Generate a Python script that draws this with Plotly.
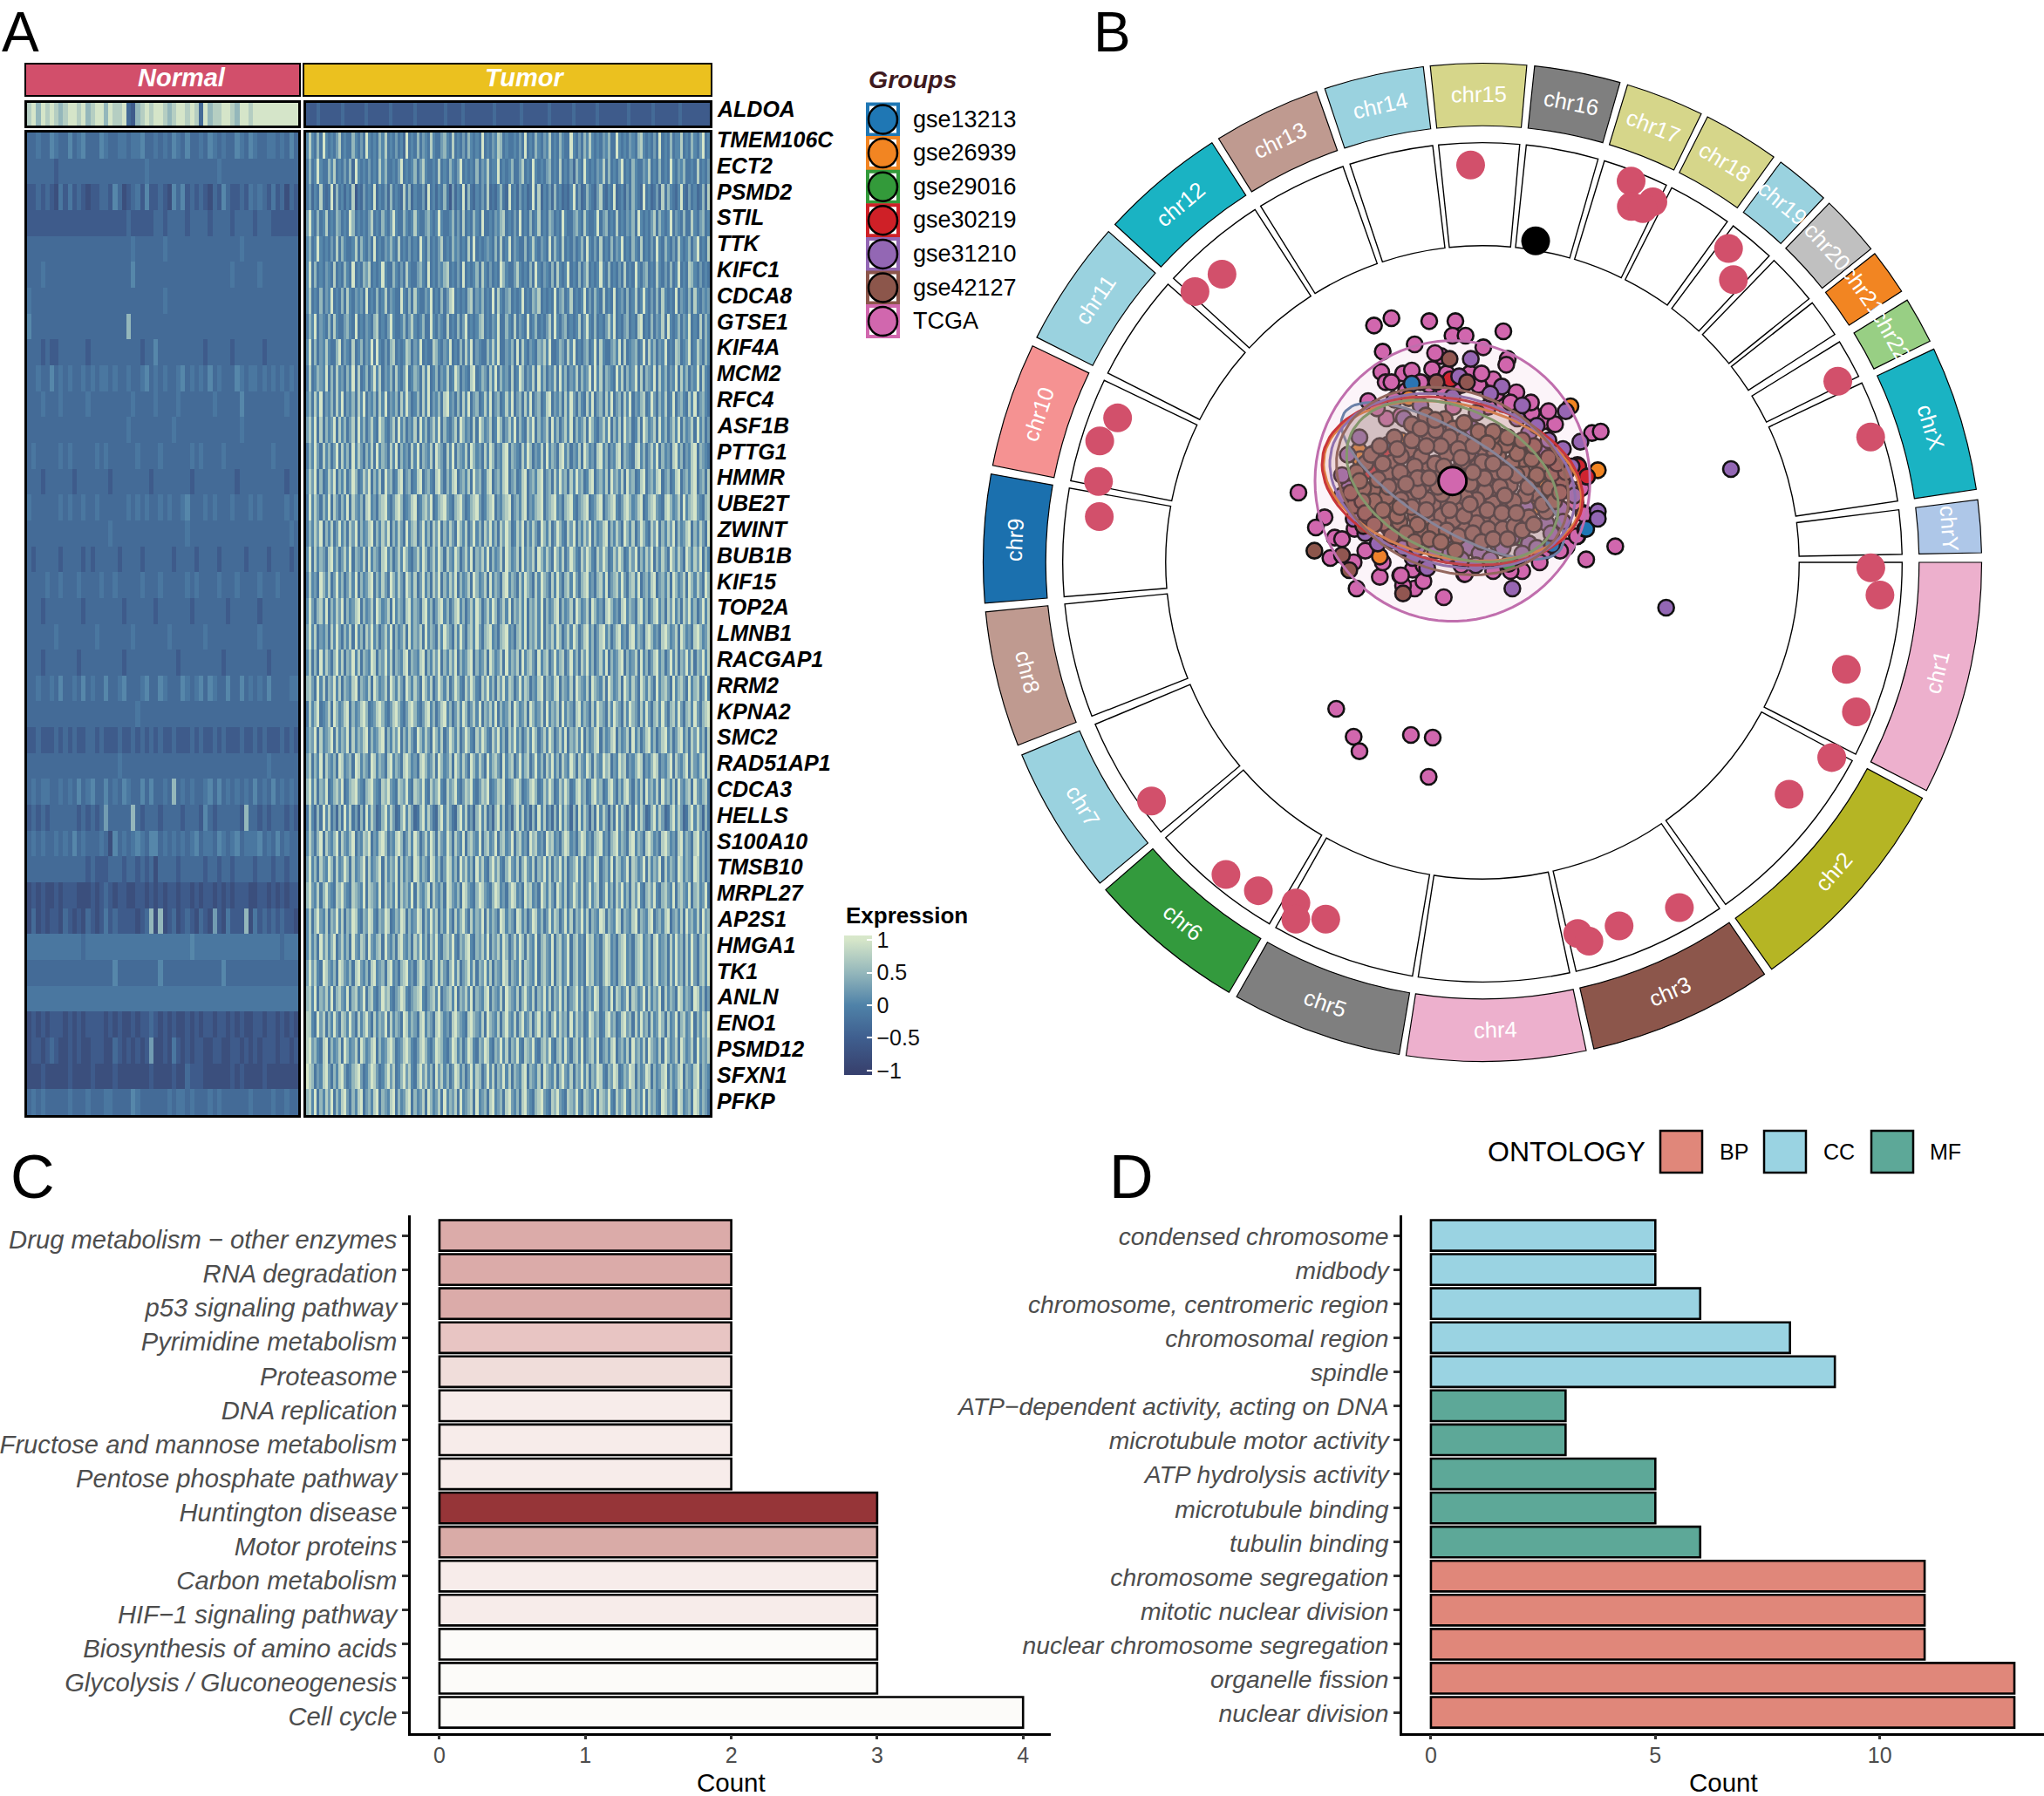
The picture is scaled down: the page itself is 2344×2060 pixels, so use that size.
import math
import plotly.graph_objects as go

W, H = 2344, 2060
FONT = "Liberation Sans"

# ---------- panel A, values (one digit = one level, see levels)
genes = ["TMEM106C", "ECT2", "PSMD2", "STIL", "TTK", "KIFC1", "CDCA8", "GTSE1", "KIF4A", "MCM2",
         "RFC4", "ASF1B", "PTTG1", "HMMR", "UBE2T", "ZWINT", "BUB1B", "KIF15", "TOP2A", "LMNB1",
         "RACGAP1", "RRM2", "KPNA2", "SMC2", "RAD51AP1", "CDCA3", "HELLS", "S100A10", "TMSB10",
         "MRPL27", "AP2S1", "HMGA1", "TK1", "ANLN", "ENO1", "PSMD12", "SFXN1", "PFKP"]
levels = [-1, -0.78, -0.56, -0.33, -0.15, 0.05, 0.25, 0.5, 0.75, 1]

aldoa_normal = ["897989878998978997988932789899878998983978899879989999999999"]
aldoa_tumor = ["222322222232222223222222322222232222222232222322222222322222223222222232222223222222322222222322222232222222322222222"]

normal_rows = [
    "334335433534533354334434453343435435334354343354354334434353",
    "333333233333333333333333334333333333333333433333333333333333",
    "223232142423212233253123425223215352323213253223243432423132",
    "222222222222222222222232222233233332333323333233332333222222",
    "333333333333333333333334333333433333333333333334333333333333",
    "333433333333333333333335333333333333333333333433333433333333",
    "433333333333333333333333333333433333333333333333333333333333",
    "533333333333333333333373333333333333333333333333333333333333",
    "333232233333323333333333323353333333333233333233333323333333",
    "334335343433434344343343345343433453434353433354344343434343",
    "333433343333343333333334333343333433333334333335333333333433",
    "333333333333333333333343333333334333333333333334333333333333",
    "343333343433333434333333433334333333434333343333333333433333",
    "333233333323333333233333333233333333233333333323333333333233",
    "433333343433433433333343434334343345333434333433343433333434",
    "333333333333333333433333333333333334333333333333333333333343",
    "323333323333232333332333323333332333323333233333233332333323",
    "333343343334333343343333343334333334343333433343333433343333",
    "333233333333233333333233333323333333233333332333333233333333",
    "333333433333333433333334333333343333333433333333333433333333",
    "333233333332333333333233333333333233333333323333333332333333",
    "334334353343534335334533345335433354345354335335343435333344",
    "333333333333333333333333433333333333333333333333333333333333",
    "223222323232233232223223232323223222323223232223223232223232",
    "333333333333333333334333333333333333333333333333333334333333",
    "343443343435345335343543353533437343433453534343435343534343",
    "232323333332323236333337323332333323332532333332733232333232",
    "343433434353433343153434543553434343453443543453444534353433",
    "333333333333323222333233232313333233333233233233332333233233",
    "121211212221112123212211221212122122121221212122211221212122",
    "131212213212132124232222123717123123213216214222714232323221",
    "444444444444344444444444444444444444544444444444444444443444",
    "333333333333333333353333333335333333333333353333333333333333",
    "444444444444444444444444444444444444444444444444444444444444",
    "121212221212122221212112122321212112121221221212112212212121",
    "122123211212112221132121212611214212122112211221212122212212",
    "111211111211112111121111111211112113222111111212111121111111",
    "343433333433343334433335433333343443433343433333343333433433",
]

tumor_rows = [
    "585474954546845447546495454758454645394547465485446754845464754549454658745445464945475465845475449546475854546574495454654785454649454745584547546945",
    "474595447584546473954546454857445469454574685445484547546945454746584559454574468454954546745484546375495454658474546945475446584547454954657445484546",
    "463548434937453548243645493546374543847354463945354742635493743546483435743945364534948354637453435946347543684354934536475439453463847543594364534738",
    "695474584547645497454546845475469544754585446754595445746484547549445465784546494547458454764549544675485445946745484546574954546847545946547448546745",
    "574595454648475445847546494546575484546454954745468454756454849454565474845946544745854654947548454645749546484547465945475484546495475464854574694548",
    "594745465484547549454768454595447546485446754945465784546494545748546454975446854547495465474854594547468454595474546484549546745485464745945487546454",
    "584547465945474854656494547458465449547485446594547468945454784657454948546745459454768454549467458454594647548454945647458459546474854549465474854656",
    "475946547485446754945465478454695445746854574495465484547469454578454659447548465494574546849546745458469547454685945467454894547465849545746594548475",
    "594746585447946548457465949546478454587465945448754659454748594654475859446574948546547685944576485945467459485446759484567459485746594548745694586475",
    "484576594748564759484574695846574854694576485945746584597465489457648594756484597465849574658495746584756949584765495847569484765948574659485746594854",
    "574859465748594657485946574859465748596457485946574895647485946745859467458594674859467458946574859647548594674859467485946578459647584594675485946754",
    "685948475694857468495746854975468495746584957468594754684975648497568459746859475486947568495746859475684975468594758496745849756849574685947568495746",
    "475964857469485749586475849576485947564859476584976485947658497564859746589476548597465849576489574658497564895746589476548957468594756489574658947654",
    "586947458694758469745869475849674589467458946754896475894675849674589467589467458946758946748596748596745894675849675849674589467589467458946758946748",
    "495864759486475948657489564789546897456894578694578965478964578964578946578946758946578946789564789546789456894678954689756894578965489756849578965478",
    "475869475846957486947568947586947586495784695748694758649758469574869574869745869475864975846975486947586947568947586497584697548694758694756894758649",
    "594857648957468594765849576489574685975468597468597486597468594768594756849756849576849758649758469754869754869745869745869475869475864975864975869475",
    "485649758469574685947568947586497586497584695748694758694756849756849576489576485976485976485964785964789564785946785964785946758946758497568497586497",
    "596478594758694756894756849756849576489576489574689574689574685974685974685947685947685947568947568497568497564897564895764895746895748695748695746958",
    "695846574859647584957486957468594756849576849576485976485964785964789564789564785947685947685974685974689574689574689564895764897564897568497564897568",
    "584749586479584769584765984769584765894765894758694758694756894756849756849576849578649578469578469574869574685947568947568495746895746958476958476958",
    "786495847695847658947658497568497586497586497584697584697548697548695748695874695874658947658947658497658497658497568497586497586495786495786495784695",
    "485794568497568947568974568975468975468975468957468957468597468594768594756849756849756849576849576489576485976485976485976485964785964785964785964789",
    "576948567948576948576894756894758694758649758649758469758469754869754869574869574685974685974685947685947568947568947568495746895746895746895748695748",
    "684759486574985674985764985764895764897564897568497568497586497586495786495784695784695748695748659748659748659784659784657984657984657948657948657948",
    "795847694578694578965478965487965487695487695486795486795468795468794568794568974568974586974586974589674589674589647589647584967584967584965784965784",
    "485374958463749584637495863479586347958634795864379586437958463795846379584637958463749584637495863749586374958637495863749586347958634795863479586374",
    "586479486579486579465879465897465897468597468597486597486594786594785694785694785649785649785647985647985647895647895764895764897564897564895764895746",
    "695748659748569748567948567948576948576498576498574698574968574968547968547965847965847695847695846795846759846759487569487569485769485764985764985746",
    "796584796548796548765948765948675948675948657948657498657498654798654798564798564978564975864975846975846957846957486957486954786954786594786594785694",
    "584796584769584769854769854769845769847569847596847596485796485769485764985764985746985746958746958476958476598476598476589476589467589467584967584967",
    "585749685794685749658749657849657489657486957486954786954768954768594768597468597486594786594785694785649785647985647895647895674895674859674859647859",
    "696854986574986574896574895674895647895647985647958647958467958476958476598476594876594786594785694785649785647985647895647895674895674859674859647859",
    "785947685947865947856947854697854679854678954678594678594768594765894765849765847965847695847695846795846759846759487569487569485769485764985764985746",
    "885496847596487596485796485769485764985764895764897564897654897658497658479658479568479586479586749586745986745896745896748596748569748569478569475869",
    "896754894756849756849756894756897456897546897546987546985746985476985476958476954876954786954785964785946785946758946758496758497658497568497568495768",
    "987465896475896457896457986457968457968547968574968574698574695874695847695847658947658497658479658476958476985476984576984756984756894756894765894765",
    "785947586947589647589467589476589475689475684975684957684956784956748956748965748965478965487965487695487659487695486795486759486754986754985674985764",
]

# ---------- panel B
chroms = ["chr1", "chr2", "chr3", "chr4", "chr5", "chr6", "chr7", "chr8", "chr9", "chr10", "chr11", "chr12",
          "chr13", "chr14", "chr15", "chr16", "chr17", "chr18", "chr19", "chr20", "chr21", "chr22", "chrX", "chrY"]
chr_start = [90, 118.2, 145.6, 168, 189.6, 210.5, 230, 248.5, 265.3, 281.2, 296.8, 312.6,
             328.1, 341.6, 354, 6, 16.9, 26.8, 36.7, 44, 51.8, 58.3, 64.7, 82.8]
chr_end = [117.2, 144.6, 167.1, 188.8, 209.5, 229, 247.3, 264.3, 280.2, 295.7, 311.5, 327.2,
           340.6, 353.2, 365.1, 16, 26, 35.7, 43.1, 51.1, 57.1, 63.7, 81.6, 88.9]
chr_colors = ["#EDB0CD", "#B5B524", "#8C564B", "#EDB0CD", "#7F7F7F", "#339A3D", "#9AD2DF", "#BF9A90",
              "#1B70AE", "#F59292", "#9AD2DF", "#1AB3C3", "#BF9A90", "#9AD2DF", "#D6D68A", "#7F7F7F",
              "#D6D68A", "#D6D68A", "#9AD2DF", "#C0C0C0", "#F28522", "#98CF84", "#1AB3C3", "#AEC7E8"]
dot_theta = [358.3, 21.3, 22.7, 25.3, 24.4, 38.1, 41.6, 63.0, 72.1, 90.8, 94.7, 106.4, 111.8, 119.2, 127.1, 150.3,
             159.4, 165.6, 164.3, 203.7, 208.7, 207.6, 214.3, 219.4, 234.2, 276.8, 281.9, 287.6, 291.6, 313.3, 317.9]
dot_r = [305, 314, 296, 306, 298, 306, 290, 306, 313, 298, 306, 291, 309, 307, 295, 305,
         298, 294, 302, 299, 298, 309, 305, 310, 313, 296, 301, 308, 301, 303, 298]
black_theta = [9.4]
black_r = [250]

groups = ["gse13213", "gse26939", "gse29016", "gse30219", "gse31210", "gse42127", "TCGA"]
group_colors = ["#1F77B4", "#F28522", "#339A3A", "#CF2027", "#9367B4", "#8C564B", "#D167AE"]

tcga_x = [-27, -21, -8, 1, 0, 4.5, 17.5, 10.6, -13, -24, -4, -6, 19, 18.5, -24.5, -17, -14, -23, -21, -7, 6, 14, -29, 22, 34,
          48, 51, -53, -44, -47, -40.5, -42, -34, -25, -33, -18, -13, -10, -17, -3, 4, 24, 20, 39, 43, 46, 56, 45,
          -40, -34, -32, -14.3, -6.8, -8.2, 31.3, 27.3, 35.3, 23.3, 17.3, -31.7, -34.7, -27.2, -22.7, -17.7, 12.3, 0.3,
          -33.7, 42.3, 44.3, -13.7, 4.3, -17.7, 31.3, 39.3, 42.8, 45.3,
          -8, -3, 3, 9, 15, 20, -11, -16, -26, -20, -2, 10, 27, 33, -38, -30, -24, -10, 3, 14, 30, 37]
tcga_y = [53.5, 56, 55, 55, 50, 50, 51.5, 46, 47, 44.5, 43, 44, 42, 40, 37.5, 37, 38, 34, 34, 38.5, 37, 35, 27.5, 30.5, 20,
          16.5, 17, -4, -12.5, -16, -19.5, -26.5, -28, -33, -37, -32.5, -37, -34.5, -36, -40, -32, -31, -31, -23, -19, -27, -22.5, -11,
          -78.4, -88, -93, -87.4, -88.3, -101.8, 20.5, 23.5, 19.5, 25.5, 26.5, -11.5, -7.5, 9.5, 21.5, 22.5, 25.5, 25.5,
          -16.5, -7.5, -2.5, -30.5, -32, -32.5, -24.5, -22.5, -19, -11.5,
          33, 31, 33, 33, 30, 27, 34, 31, 25, 28, 37, 37, 27, 24, -20, -24, -28, -29, -29, -31, -28, -24]
g13213_x = [-14, 45.6, 34, -22.2, -26.7, 46, 34.3, 0.3, 15.3]
g13213_y = [33.5, -16.5, -21.5, 12.5, 5, -16.5, -22, -23, -21.5]
g26939_x = [-15, 40.6, 50, -25, 9.8, -17.7, -32.2, -31.7, 10.8, 32.3, 28.3]
g26939_y = [28.5, 25.7, 3.7, -26, 14, 14, 10.5, 7.5, -20.5, -2, -9]
g29016_x = [19.3, 23.3]
g29016_y = [-28.5, -19.5]
g30219_x = [-0.7, 43, 46, -36, -29, -28.7, -35.2, -22.7, 17.3, 12.3, 9.3, 1.8, 43.3, 46.3, 27.3]
g30219_y = [35, 5.5, 1.5, -6, 3.5, 3.5, -6, 8.5, 12, 0.5, -17, -17, 5, 1.5, 8.5]
g31210_x = [95.8, 73.5, 6.3, 2.3, 17, 39, 44, 50, 50, 20.6, 6.8, 13.3, 26.3, 32.3, 38.8, 29.3, 31.8, 25.3, -6.7, -1.7, 5.3, 9.3,
            17.3, 20.3, -8.7, -13.7, -26.7, -35.7, -12.7, 9.8, -16.7, 8.3, 22.3, 26.3, -1.7, -20.7, -25.7, 32.3, 37.3, 40.3,
            -6, -12, -17, -22, -30, -34, -38, 3, 8, 13, 24, 29, 34, 38, 42, 41, 38, 33, 29, 24, 13, 0, -11, -32, -36, -38]
g31210_y = [4.1, -43.6, 42, 36, 32.5, 24, 13.5, -10.5, -13, -37, 18, 15, 16.5, 10, 5.5, -4.5, -6.5, -9, -15.5, -18.5, -23, -25,
            -23, -19.5, -30, -26.5, 9.5, -2.5, 8.5, 9.5, 21.5, 23.5, 21.5, -21.5, -25.5, -20.5, -21.5, -14.5, -9.5, -2.5,
            -24, -23, -23, -16, -18, -13, -5, -27, -29, -27, -25, -23, -18, -14, -5, 5, 11, 14, 19, 26, 30, 29, 26, 15, 9, 2]
g42127_x = [-1, -5.5, 5, -47.5, -38, -35.5, -17, -9.2, -2.7, -14, -7.9, 2.8, -15.2, -1.9, 16.1, 15.8, -20.7, -8.5, -14.7, 8.7,
            15.5, 27.3, 24, 19.8, 7.3, -19.7, -27.4, -15.2, -20.7, -2.9, 2.1, -6.7, 13.8, 19.5, 23.6, 15, 10.3, 7.3, -12.7,
            -10.7, -18.2, -30.7, 4.3, 37.8, 32.3, 22.9, -10.2, -5.7, 0.3, 5.3, 3.3, 10.3, 24.3, 20.3, 13.3, 16.3, 11.3, 8.3,
            4.3, 0.3, -3.7, -8.7, -11.7, -17.7, -22.7, -25.7, -28.7, -23.7, -7.7, -3.7, 0.3, 8.3, 12.3, 17.3, 21.3, 26.3,
            29.3, 33.3, 34.3, 30.3, 27.3, 22.3, 18.3, 14.3, 10.3, 4.3, -4.7, -10.7, -17.7, -22.7, -25.7, -30.7, -33.7,
            -30, -33, -28, -25, -20, -24, -19, -14, -11, -6, -1, 4, 9, 14, 19, 12, 7, 2, -4, -9, -13, -6, 1, -1, 6, -5, -12, -18,
            -27, -31, -35, -30, -24, -19, -14, -9, -12, -16, -21, -6, -2, 2, 7, 10, 14, 19, 24, 28, 31, 35, 25, 21, 18, 12, 4, -1,
            37, 39, 36, 33, 28, 24, 29, 26, 22, 18, 14, 11, 7, 3, -3, -8, -16, -22, -32, 17, 22, 6, -18, -27, -13, -8, -4, 1]
g42127_y = [42, 34, 34, -24, -25.5, -30.7, -38.7, 22.5, 21.3, 19.5, 15.3, 14, 10.7, 9.2, 15.3, 8.5, 6.3, 5.9, 1.7, 5.1,
            3, 0.3, 3.2, -1.5, -3.5, -2, -3, -6.5, -8.3, -8.3, -9.3, -8, -7.7, -9, -12.8, -14, -12.5, -10.5, -12,
            -17, -14.2, -15.5, -16.5, 0.5, -10.5, 12, -1.5, 17.5, 18, 9.5, 6.5, 11.5, 7.5, 6, -2.5, -2, -3.5, -6.5,
            -5.5, -5.5, -4.5, -6.5, -3.5, -6.5, -5.5, -10.5, -12.5, -14.5, -12.5, -12, -13.5, -14.5, -16.5, -16.5, -15.5, -12.5,
            -4.5, -2.5, 2.5, 5.5, 7.5, 9.5, 12.5, 10.5, 6.5, 1.5, 2.5, 8.5, 8.5, 2.5, 0.5, -2.5, -8.5,
            6, 3, 9, 12, 15, 6, 11, 14, 18, 21, 15, 20, 17, 17, 15, 13, 12, 11, 12, 12, 5, 6, 3, -1, -1, -2, 1, 3,
            -7, -7, -4, -11, -10, -12, -9, -10, -15, -18, -19, -16, -17, -19, -18, -21, -20, -20, -17, -15, -8, -7, -5, -7, -5, -10, -12, -10,
            -4, 3, 6, 8, 12, 14, 2, -2, 2, 3, 6, 1, 3, 8, 5, 1, -1, -2, 0, -11, -11, -8, -9, -15, -21, -20, -21, -24]
pca_x = [g13213_x, g26939_x, g29016_x, g30219_x, g31210_x, g42127_x]
pca_y = [g13213_y, g26939_y, g29016_y, g30219_y, g31210_y, g42127_y]

# stat_ellipse like outlines: semi axes and tilt of each group
ell_names = ["TCGA", "gse13213", "gse26939", "gse29016", "gse30219", "gse31210", "gse42127"]
ell_a = [47.3, 44, 45, 38.5, 45.5, 43, 41]
ell_b = [48.3, 16, 26.5, 25, 28, 29, 31]
ell_tilt = [0, -32, -12, -25, -12, -15, -20]
ell_line = ["#C06EAD", "#6B80A8", "#DF7F3C", "#72A060", "#C9363A", "#8F70AE", "#93675E"]
ell_fill = ["rgba(209,103,174,0.07)", "rgba(120,120,160,0.1)", "rgba(242,170,120,0.1)", "rgba(120,170,120,0.1)",
            "rgba(220,130,130,0.1)", "rgba(170,140,190,0.1)", "rgba(170,130,120,0.1)"]

# ---------- panel C
kegg_terms = ["Cell cycle", "Glycolysis / Gluconeogenesis", "Biosynthesis of amino acids", "HIF\u22121 signaling pathway",
              "Carbon metabolism", "Motor proteins", "Huntington disease", "Pentose phosphate pathway",
              "Fructose and mannose metabolism", "DNA replication", "Proteasome", "Pyrimidine metabolism",
              "p53 signaling pathway", "RNA degradation", "Drug metabolism \u2212 other enzymes"]
kegg_count = [4, 3, 3, 3, 3, 3, 3, 2, 2, 2, 2, 2, 2, 2, 2]
kegg_colors = ["#FCFBF9", "#FCFBF9", "#FCFBF9", "#F7ECEA", "#F7ECEA", "#D9ABA7", "#963538", "#F7ECEA",
               "#F7ECEA", "#F7ECEA", "#F0DDDA", "#E8C5C3", "#DBABA9", "#DBABA9", "#DBABA9"]

# ---------- panel D
go_terms = ["nuclear division", "organelle fission", "nuclear chromosome segregation", "mitotic nuclear division",
            "chromosome segregation", "tubulin binding", "microtubule binding", "ATP hydrolysis activity",
            "microtubule motor activity", "ATP\u2212dependent activity, acting on DNA", "spindle", "chromosomal region",
            "chromosome, centromeric region", "midbody", "condensed chromosome"]
go_count = [13, 13, 11, 11, 11, 6, 5, 5, 3, 3, 9, 8, 6, 5, 5]
go_ontology = ["BP", "BP", "BP", "BP", "BP", "MF", "MF", "MF", "MF", "MF", "CC", "CC", "CC", "CC", "CC"]
ontology_colors = {"BP": "#E0877A", "CC": "#9AD3E2", "MF": "#5DA898"}


def dom_x(a, b):
    return [a / W, b / W]


def dom_y(a, b):
    return [1 - b / H, 1 - a / H]


def decode(rows):
    n = min(len(r) for r in rows)
    return [[levels[int(c)] for c in r[:n]] for r in rows]


annotations = []
shapes = []


def label(x, y, text, size, color="black", anchor="left", bold=False, italic=False, angle=0):
    annotations.append(dict(x=x / W, y=1 - y / H, xref="paper", yref="paper", text=text, showarrow=False,
                            xanchor=anchor, yanchor="middle", textangle=angle,
                            font=dict(family=FONT, size=size, color=color, weight=700 if bold else 400,
                                      style="italic" if italic else "normal")))


def box(x0, y0, x1, y1, fill, line="black", width=2, kind="rect"):
    shapes.append(dict(type=kind, xref="paper", yref="paper", x0=x0 / W, x1=x1 / W, y0=1 - y0 / H, y1=1 - y1 / H,
                       fillcolor=fill, line=dict(color=line, width=width)))


fig = go.Figure()
layout_axes = {}


def heat_axes(i, x0, x1, y0, y1, ncol, nrow):
    layout_axes["xaxis%d" % i] = dict(domain=dom_x(x0, x1), anchor="y%d" % i, range=[-0.5, ncol - 0.5], showticklabels=False,
                                      ticks="", showgrid=False, zeroline=False, showline=True, mirror=True,
                                      linecolor="black", linewidth=3)
    layout_axes["yaxis%d" % i] = dict(domain=dom_y(y0, y1), anchor="x%d" % i, range=[nrow - 0.5, -0.5], showticklabels=False,
                                      ticks="", showgrid=False, zeroline=False, showline=True, mirror=True,
                                      linecolor="black", linewidth=3)


panels = [(normal_rows, 1, 31, 342, 152, 1279), (tumor_rows, 2, 351, 814, 152, 1279),
          (aldoa_normal, 3, 31, 342, 118, 144), (aldoa_tumor, 4, 351, 814, 118, 144)]
for rows, i, x0, x1, y0, y1 in panels:
    z = decode(rows)
    fig.add_trace(go.Heatmap(z=z, coloraxis="coloraxis", xaxis="x%d" % i, yaxis="y%d" % i, hoverinfo="skip"))
    heat_axes(i, x0, x1, y0, y1, len(z[0]), len(z))

box(29, 73, 344, 110, "#D24F6B")
box(348, 73, 816, 110, "#EBC11F")
label(208, 89, "Normal", 29, "white", "center", True, True)
label(601, 89, "Tumor", 29, "white", "center", True, True)

label(820, 125, "ALDOA", 25, "black", "left", True, True)
for k, g in enumerate(genes):
    label(820, 160 + k * 29.8, g, 25, "black", "left", True, True)

label(994, 91, "Groups", 28.5, "#3E1A1F", "left", True, True)
for k, g in enumerate(groups):
    top = 118.5 + k * 38.6
    box(995, top + 1, 1030, top + 36, "white", group_colors[k], 4)
    box(996, top + 2, 1029, top + 35, group_colors[k], "black", 2.5, "circle")
    label(1045, top + 18, g, 27)

label(968, 1050, "Expression", 26, "black", "left", True)

# ---------- circos part
cx, cy, rad = 1700, 645, 574
theta_mid = [(a + b) / 2 for a, b in zip(chr_start, chr_end)]
theta_w = [b - a for a, b in zip(chr_start, chr_end)]
fig.add_trace(go.Barpolar(r=[79] * 24, base=[243] * 24, theta=theta_mid, width=theta_w, marker_color="white",
                          marker_line=dict(color="black", width=1.4), hoverinfo="skip", subplot="polar"))
fig.add_trace(go.Barpolar(r=[48] * 24, base=[335] * 24, theta=theta_mid, width=theta_w, marker_color=chr_colors,
                          marker_line=dict(color="black", width=1.2), hoverinfo="skip", subplot="polar"))
fig.add_trace(go.Scatterpolar(r=dot_r, theta=dot_theta, mode="markers", cliponaxis=False,
                              marker=dict(size=33, color="#D2506B"), hoverinfo="skip", subplot="polar"))
fig.add_trace(go.Scatterpolar(r=black_r, theta=black_theta, mode="markers", cliponaxis=False,
                              marker=dict(size=33, color="black"), hoverinfo="skip", subplot="polar"))

for name, th in zip(chroms, theta_mid):
    t = th % 360
    ang = t - 180 if 90 <= t < 270 else (t - 360 if t >= 270 else t)
    lx = cx + 359 * 1.495 * math.sin(math.radians(t))
    ly = cy - 359 * 1.495 * math.cos(math.radians(t))
    label(lx, ly, name, 25.5, "white", "center", angle=ang)

# ---------- PCA cloud in the hole of the circos
layout_axes["xaxis5"] = dict(domain=dom_x(1400, 2000), anchor="y5", range=[-79.7, 100.3], visible=False, showgrid=False)
layout_axes["yaxis5"] = dict(domain=dom_y(330, 930), anchor="x5", range=[-113.5, 66.5], visible=False, showgrid=False)
fig.add_trace(go.Scatter(x=tcga_x, y=tcga_y, mode="markers", xaxis="x5", yaxis="y5", hoverinfo="skip", cliponaxis=False,
                         marker=dict(size=18, color=group_colors[6], line=dict(color="#111111", width=2.6))))
for k in range(6):
    fig.add_trace(go.Scatter(x=pca_x[k], y=pca_y[k], mode="markers", xaxis="x5", yaxis="y5", hoverinfo="skip",
                             cliponaxis=False,
                             marker=dict(size=18, color=group_colors[k], line=dict(color="#111111", width=2.6))))
for k in range(7):
    ex, ey = [], []
    tilt = math.radians(ell_tilt[k])
    for d in range(0, 361, 4):
        t = math.radians(d)
        ux, uy = ell_a[k] * math.cos(t), ell_b[k] * math.sin(t)
        ex.append(ux * math.cos(tilt) - uy * math.sin(tilt))
        ey.append(ux * math.sin(tilt) + uy * math.cos(tilt))
    fig.add_trace(go.Scatter(x=ex, y=ey, mode="lines", fill="toself", fillcolor=ell_fill[k], xaxis="x5", yaxis="y5",
                             line=dict(color=ell_line[k], width=3), hoverinfo="skip", cliponaxis=False))
fig.add_trace(go.Scatter(x=[0], y=[0], mode="markers", xaxis="x5", yaxis="y5", hoverinfo="skip",
                         marker=dict(size=32, color=group_colors[6], line=dict(color="black", width=3))))


# ---------- bar panels
def bar_axes(i, x0, x1, xr, tickvals, size, shift):
    tick_font = dict(family=FONT, size=25, color="#4D4D4D")
    layout_axes["xaxis%d" % i] = dict(domain=dom_x(x0, x1), anchor="y%d" % i, range=xr, tickvals=tickvals, ticks="outside",
                                      ticklen=5, tickwidth=2.5, tickcolor="#333333", tickfont=tick_font, showgrid=False,
                                      ticklabelstandoff=-3,
                                      zeroline=False, showline=True, linecolor="black", linewidth=2.5)
    layout_axes["yaxis%d" % i] = dict(domain=dom_y(1393.6, 1987.5), anchor="x%d" % i, range=[-0.6, 14.6], type="category",
                                      ticks="outside", ticklen=7, tickwidth=2.5, tickcolor="#333333", showgrid=False,
                                      ticklabelshift=shift,
                                      tickfont=dict(family=FONT, size=size, color="#4D4D4D", style="italic"),
                                      zeroline=False, showline=True, linecolor="black", linewidth=2.5)


fig.add_trace(go.Bar(x=kegg_count, y=kegg_terms, orientation="h", width=0.9, xaxis="x6", yaxis="y6", hoverinfo="skip",
                     marker=dict(color=kegg_colors, line=dict(color="black", width=2.6))))
bar_axes(6, 471, 1205, [-0.197, 4.19], [0, 1, 2, 3, 4], 29.2, 5)
fig.add_trace(go.Bar(x=go_count, y=go_terms, orientation="h", width=0.9, xaxis="x7", yaxis="y7", hoverinfo="skip",
                     marker=dict(color=[ontology_colors[o] for o in go_ontology], line=dict(color="black", width=2.6))))
bar_axes(7, 1608, 2344, [-0.64, 13.66], [0, 5, 10], 28.3, 1)

label(838, 2044, "Count", 29.5, "black", "center")
label(1976, 2044, "Count", 29.5, "black", "center")

label(1704, 1321, "ONTOLOGY", 32)
for name, x0, lx in [("BP", 1904, 1970), ("CC", 2023, 2089), ("MF", 2146, 2211)]:
    box(x0, 1297, x0 + 48, 1345, ontology_colors[name], "black", 2.5)
    label(lx, 1321, name, 25)

label(0, 37, "A", 64)
label(1252, 37, "B", 64)
label(10, 1350, "C", 70)
label(1270, 1350, "D", 70)

fig.update_layout(
    width=W, height=H, margin=dict(l=0, r=0, t=0, b=0), paper_bgcolor="white", plot_bgcolor="rgba(0,0,0,0)",
    template="none", showlegend=False, barmode="overlay", annotations=annotations, shapes=shapes,
    font=dict(family=FONT),
    coloraxis=dict(cmin=-1.07, cmax=1.07,
                   colorscale=[[0, "#36406F"], [0.03, "#38426F"], [0.27, "#3F5F8F"], [0.5, "#4F82A8"], [0.73, "#93B6BB"],
                               [0.97, "#D6E6C9"], [1, "#D8E8CB"]],
                   colorbar=dict(x=968 / W, xanchor="left", xpad=0, y=1 - 1153 / H, yanchor="middle", ypad=0,
                                 lenmode="pixels", len=160, thicknessmode="pixels", thickness=32, outlinewidth=0,
                                 tickvals=[-1, -0.5, 0, 0.5, 1], ticktext=["\u22121", "\u22120.5", "0", "0.5", "1"],
                                 ticks="inside", ticklen=6, tickcolor="white", tickwidth=1.5,
                                 tickfont=dict(family=FONT, size=25, color="#111111"))),
    polar=dict(domain=dict(x=dom_x(cx - rad, cx + rad), y=dom_y(cy - rad, cy + rad)), bgcolor="rgba(0,0,0,0)",
               barmode="overlay",
               radialaxis=dict(range=[0, 384], visible=False),
               angularaxis=dict(rotation=90, direction="clockwise", visible=False)),
    **layout_axes,
)

fig.write_html("out.html", config={"displayModeBar": False}, post_script="document.body.style.margin='0';")
